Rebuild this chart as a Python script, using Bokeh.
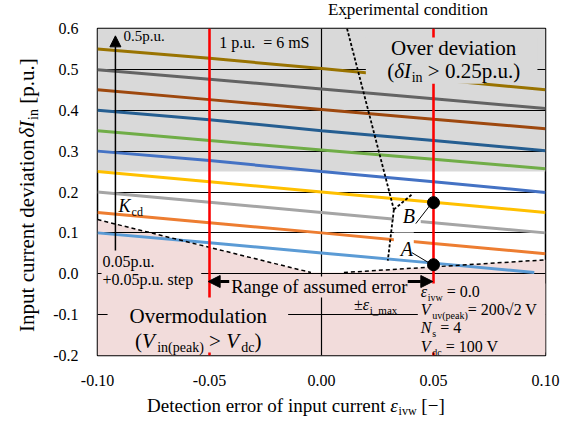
import math
from bokeh.plotting import figure
from bokeh.layouts import column, row
from bokeh.models import FixedTicker, PrintfTickFormatter, Arrow, NormalHead, Range1d
from bokeh.core.properties import value
from bokeh.embed import file_html
from bokeh.resources import INLINE

# ---------------- data ----------------
x_ticks = [-0.10, -0.05, 0.00, 0.05, 0.10]
y_ticks = [-0.2, -0.1, 0.0, 0.1, 0.2, 0.3, 0.4, 0.5, 0.6]

eps_pts = [-0.10, -0.05, 0.00, 0.05, 0.10]
eps_pts_short = [-0.10, -0.05, 0.00, 0.05, 0.095]

dI_010 = [0.100, 0.076, 0.051, 0.026, 0.003]
dI_015 = [0.150, 0.125, 0.100, 0.074, 0.049]
dI_020 = [0.200, 0.175, 0.150, 0.125, 0.100]
dI_025 = [0.250, 0.225, 0.200, 0.175, 0.150]
dI_030 = [0.300, 0.277, 0.250, 0.225, 0.199]
dI_035 = [0.350, 0.326, 0.303, 0.280, 0.257]
dI_040 = [0.400, 0.377, 0.350, 0.326, 0.301]
dI_045 = [0.450, 0.426, 0.402, 0.378, 0.355]
dI_050 = [0.499, 0.476, 0.452, 0.428, 0.404]
dI_055 = [0.550, 0.527, 0.502, 0.476, 0.450]

series = [
    (eps_pts_short, dI_010, "#5b9bd5"),
    (eps_pts, dI_015, "#ed7d31"),
    (eps_pts, dI_020, "#a5a5a5"),
    (eps_pts, dI_025, "#ffc000"),
    (eps_pts, dI_030, "#4472c4"),
    (eps_pts, dI_035, "#70ad47"),
    (eps_pts, dI_040, "#255e91"),
    (eps_pts, dI_045, "#9e480e"),
    (eps_pts, dI_050, "#636363"),
    (eps_pts, dI_055, "#997300"),
]

# over-modulation boundary (dashed)
om_left_x = [-0.100, -0.0047]
om_left_y = [0.1325, 0.003]
om_right_x = [0.010, 0.100]
om_right_y = [0.003, 0.034]

DEV_LIMIT = 0.25     # over deviation threshold
EPS_MAX = 0.05       # assumed error range
op_x = [0.05, 0.05]  # operating points A, B
op_y = [0.022, 0.174]

# ---------------- style ----------------
FONT = "Liberation Serif"
GRAY = "#d9d9d9"
PINK = "#f2dcdb"
XMIN, XMAX, YMIN, YMAX = -0.1, 0.1, -0.2, 0.6
BL = 0.35   # measured offset of the rendered alphabetic baseline, in em

CW = {' ': 0.25, '!': 0.333, '(': 0.333, ')': 0.333, '+': 0.564, ',': 0.25, '-': 0.333,
      '.': 0.25, '/': 0.278, '=': 0.564, '>': 0.564, '<': 0.564, '[': 0.333, ']': 0.333,
      '_': 0.5, '±': 0.549, '−': 0.564, 'δ': 0.5, 'ε': 0.44, '√': 0.549}
for d in "0123456789":
    CW[d] = 0.5
CW.update(dict(A=.722, B=.667, C=.667, D=.722, E=.611, F=.556, G=.722, H=.722, I=.333, J=.389,
               K=.722, L=.611, M=.889, N=.722, O=.722, P=.556, Q=.722, R=.667, S=.556, T=.611,
               U=.722, V=.722, W=.944, X=.722, Y=.722, Z=.611))
CW.update(dict(a=.444, b=.5, c=.444, d=.5, e=.444, f=.333, g=.5, h=.5, i=.278, j=.278, k=.5,
               l=.278, m=.778, n=.5, o=.5, p=.5, q=.5, r=.333, s=.389, t=.278, u=.5, v=.5,
               w=.722, x=.5, y=.5, z=.444))


def tw(s, size):
    return sum(CW.get(c, 0.5) for c in s) * size


def txt(fig, x, y, t, s, ital, angle=0.0, align="left"):
    # x, y: wanted baseline start in page pixels (y downwards)
    if angle == 0:
        y = y - BL * s
    else:
        x = x - BL * s
    fig.text(x=[x], y=[y], text=[t], angle=angle,
             text_font=value(FONT), text_font_size=f"{s}px",
             text_font_style="italic" if ital else "normal",
             text_baseline="alphabetic", text_align=align, text_color="black")


# ---------------- geometry (page pixels) ----------------
TOP_H, LEFT_W, BOT_H = 19, 50, 33
MAIN_W, MAIN_H = 516, 371
B_LEFT, B_RIGHT, B_TOP, B_BOTTOM = 46, 21, 9, 35
FR_L = LEFT_W + B_LEFT                  # frame left on page (96)
FR_R = LEFT_W + MAIN_W - B_RIGHT        # frame right on page (545)
FR_T = TOP_H + B_TOP                    # frame top on page (28)
FR_B = TOP_H + MAIN_H - B_BOTTOM        # frame bottom on page (355)
PAGE_H = TOP_H + MAIN_H + BOT_H

# ---------------- main plot ----------------
p = figure(width=MAIN_W, height=MAIN_H, x_range=Range1d(XMIN, XMAX), y_range=Range1d(YMIN, YMAX),
           output_backend="svg", toolbar_location=None,
           min_border_left=B_LEFT, min_border_right=B_RIGHT, min_border_top=B_TOP,
           min_border_bottom=B_BOTTOM)
p.background_fill_color = "white"
p.border_fill_color = "white"
p.outline_line_color = "black"
p.outline_line_width = 1.5

p.xaxis.ticker = FixedTicker(ticks=x_ticks)
p.yaxis.ticker = FixedTicker(ticks=y_ticks)
p.xaxis.formatter = PrintfTickFormatter(format="%.2f")
p.yaxis.formatter = PrintfTickFormatter(format="%.1f")
for ax in (p.xaxis[0], p.yaxis[0]):
    ax.axis_line_color = None
    ax.major_tick_line_color = None
    ax.minor_tick_line_color = None
    ax.major_label_text_font = FONT
    ax.major_label_text_font_size = "16px"
    ax.major_label_text_color = "black"
p.xaxis.major_label_standoff = 13
p.yaxis.major_label_standoff = 13

p.xgrid.ticker = FixedTicker(ticks=[-0.05, 0.0, 0.05])
p.ygrid.ticker = FixedTicker(ticks=[-0.1, 0.0, 0.1, 0.2, 0.3, 0.4, 0.5])
p.grid.grid_line_color = "black"
p.grid.grid_line_width = 1.2

# regions
p.quad(left=XMIN, right=XMAX, bottom=DEV_LIMIT, top=YMAX, fill_color=GRAY, line_color=None, level="image")
p.patch([XMIN] + om_left_x + om_right_x + [XMAX], [YMIN] + om_left_y + om_right_y + [YMIN],
        fill_color=PINK, line_color=None, level="image")

# characteristic lines
for xs, ys, col in series:
    p.line(xs, ys, line_color=col, line_width=3)

p.line(om_left_x, om_left_y, line_color="black", line_width=1.5, line_dash="4 3")
p.line(om_right_x, om_right_y, line_color="black", line_width=1.5, line_dash="4 3")

p.segment(x0=[-EPS_MAX, EPS_MAX], y0=[YMIN, YMIN], x1=[-EPS_MAX, EPS_MAX], y1=[YMAX, YMAX],
          line_color="#ff0000", line_width=2.5)

# text background boxes
p.quad(left=[0.0198, 0.0724, -0.0982, -0.0412, -0.0955, 0.0430, 0.0323, 0.0323],
       right=[0.0724, 0.0964, -0.0537, 0.0390, -0.0149, 0.1000, 0.0412, 0.0443],
       bottom=[0.465, 0.489, -0.046, -0.0582, -0.1927, -0.1927, 0.0518, 0.1154],
       top=[0.578, 0.578, 0.052, -0.0068, -0.0582, -0.024, 0.1007, 0.1667],
       fill_color=[GRAY, GRAY, PINK, PINK, PINK, PINK, "white", "white"], line_color=None)

# pointer lines
p.multi_line(xs=[[0.0114, 0.0323], [0.0323, 0.0408], [0.0323, 0.0296]],
             ys=[[0.600, 0.157], [0.157, 0.196], [0.157, 0.032]],
             line_color="black", line_width=1.8, line_dash="3 2")
p.multi_line(xs=[[0.0403, 0.0488], [0.0421, 0.0488]], ys=[[0.0518, 0.024], [0.1227, 0.170]],
             line_color="black", line_width=1)
p.scatter(op_x, op_y, size=12, fill_color="black", line_color="black")


def rich_text(x, y, segs, align="left"):
    total = sum(tw(t, s) for t, s, _, _ in segs)
    off = 0 if align == "left" else -total / 2
    for t, s, ital, drop in segs:
        lead = tw(t[:len(t) - len(t.lstrip(' '))], s)
        p.text(x=[x], y=[y], text=[t.strip()], x_offset=off + lead, y_offset=drop - BL * s,
               text_font=value(FONT), text_font_size=f"{s}px",
               text_font_style="italic" if ital else "normal",
               text_baseline="alphabetic", text_align="left", text_color="black")
        off += tw(t, s)


rich_text(-0.0884, 0.5677, [("0.5p.u.", 15, False, 0)])
rich_text(-0.0457, 0.553, [("1 p.u.", 16, False, 0), ("  = 6 mS", 16, False, 0)])
rich_text(0.059, 0.5335, [("Over deviation", 21, False, 0)], align="center")
rich_text(0.059, 0.477, [("(", 21, False, 0), ("δI", 21, True, 0), ("in", 14, False, 4),
                         (" > 0.25p.u.)", 21, False, 0)], align="center")
rich_text(-0.0906, 0.1496, [("K", 18, True, 0), ("cd", 12, False, 4)])
rich_text(-0.0978, 0.0152, [("0.05p.u.", 16, False, 0)])
rich_text(-0.0978, -0.0289, [("+0.05p.u. step", 16, False, 0)])
rich_text(-0.0403, -0.0484, [("Range of assumed error", 18.5, False, 0)])
rich_text(0.0145, -0.090, [("±", 16, False, 0), ("ε", 16, True, 0), ("i_max", 11, False, 3)])
rich_text(-0.055, -0.1218, [("Overmodulation", 21, False, 0)], align="center")
rich_text(-0.055, -0.183, [("(", 21, False, 0), ("V", 21, True, 0), ("in(peak)", 14, False, 4),
                           (" > ", 21, False, 0), ("V", 21, True, 0), ("dc", 14, False, 4),
                           (")", 21, False, 0)], align="center")
rich_text(0.0443, -0.0582, [("ε", 16, True, 0), ("ivw", 10, False, 3), (" = 0.0", 16, False, 0)])
rich_text(0.0443, -0.1022, [("V", 16, True, 0), ("uv(peak)", 10, False, 3), ("= 200√2 V", 16, False, 0)])
rich_text(0.0443, -0.1462, [("N", 16, True, 0), ("s", 10, False, 3), (" = 4", 16, False, 0)])
rich_text(0.0443, -0.1927, [("V", 16, True, 0), ("dc", 10, False, 3), (" = 100 V", 16, False, 0)])
rich_text(0.0354, 0.0445, [("A", 20, True, 0)])
rich_text(0.0363, 0.1252, [("B", 20, True, 0)])

# arrows
p.add_layout(Arrow(end=NormalHead(size=11, fill_color="black", line_color="black"),
                   x_start=-0.092, y_start=0.057, x_end=-0.092, y_end=0.582,
                   line_color="black", line_width=1.5))
p.add_layout(Arrow(end=NormalHead(size=12, fill_color="black", line_color="black"),
                   x_start=-0.0412, y_start=-0.019, x_end=-0.0506, y_end=-0.019,
                   line_color="black", line_width=3))
p.add_layout(Arrow(end=NormalHead(size=12, fill_color="black", line_color="black"),
                   x_start=0.0385, y_start=-0.019, x_end=0.0497, y_end=-0.019,
                   line_color="black", line_width=3))


# ---------------- text strips: ranges in page pixels (y downwards), frames aligned to the main plot ----
def strip(w, h, xr, yr, bl=0, br=0, bt=0, bb=0):
    f = figure(width=w, height=h, x_range=Range1d(*xr), y_range=Range1d(*yr),
               output_backend="svg", toolbar_location=None, x_axis_type=None, y_axis_type=None,
               min_border=0, min_border_left=bl, min_border_right=br, min_border_top=bt,
               min_border_bottom=bb)
    f.outline_line_color = None
    f.background_fill_color = "white"
    f.border_fill_color = "white"
    f.grid.visible = False
    return f


top = strip(LEFT_W + MAIN_W, TOP_H, (FR_L, FR_R), (TOP_H, 0), bl=FR_L, br=B_RIGHT)
txt(top, 407.5, 15, "Experimental condition", 17, False, align="center")
top.line([345.0, 345.3], [17.0, 19.0], line_color="black", line_width=1.8, line_dash="3 2")

# y axis title, rotated; anchored at the junction before the subscripted symbol
left = strip(LEFT_W, MAIN_H, (0, LEFT_W), (FR_B, FR_T), bt=B_TOP, bb=B_BOTTOM)
jy = 137
lx = 34
txt(left, lx, jy + 2, "Input current deviation", 21, False, angle=math.pi / 2, align="right")
txt(left, lx, jy, "δI", 21, True, angle=math.pi / 2)
jy -= tw("δI", 21)
txt(left, lx + 4, jy, "in", 14, False, angle=math.pi / 2)
jy -= tw("in", 14) + tw(" ", 21)
txt(left, lx, jy, "[p.u.]", 21, False, angle=math.pi / 2)

# x axis title
bottom = strip(LEFT_W + MAIN_W, BOT_H, (FR_L, FR_R), (PAGE_H, TOP_H + MAIN_H), bl=FR_L, br=B_RIGHT)
bx, by = 385, 412
txt(bottom, bx, by, "Detection error of input current", 19, False, align="right")
bx += tw(" ", 19)
txt(bottom, bx, by, "ε", 19, True)
bx += tw("ε", 19)
txt(bottom, bx, by + 3, "ivw", 12, False)
bx += tw("ivw", 12) + tw(" ", 19)
txt(bottom, bx, by, "[−]", 19, False)

layout = column(top, row(left, p, spacing=0), bottom, spacing=0)
open("out.html", "w").write(file_html(layout, INLINE))
